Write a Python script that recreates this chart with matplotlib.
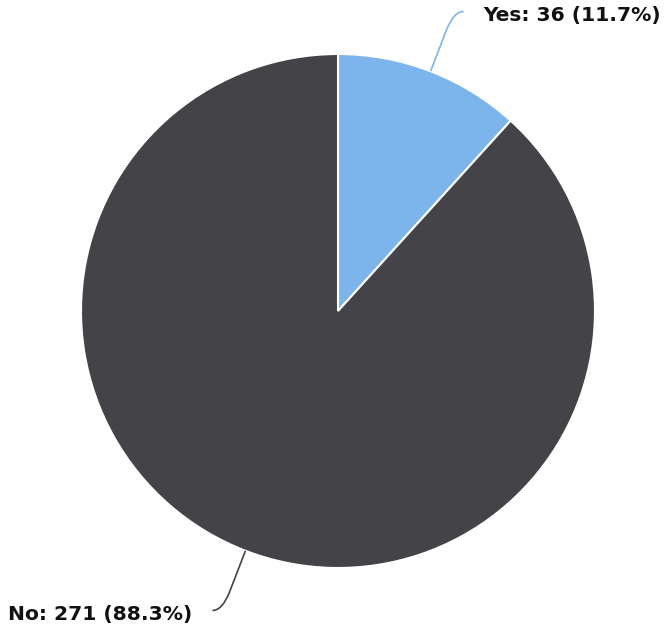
import numpy as np
from matplotlib import pyplot as plt
from matplotlib.path import Path
from matplotlib.patches import PathPatch

# data
labels = ["Yes", "No"]
counts = [36, 271]
colors = ["#7cb5ec", "#434348"]

W, H = 667, 627
fig = plt.figure(figsize=(W / 100, H / 100), dpi=100)
ax = fig.add_axes([0, 0, 1, 1])

cx, cy, r = 338, H - 311, 257
wedges, _ = ax.pie(counts, colors=colors, startangle=90, counterclock=False,
                   center=(cx, cy), radius=r, frame=True,
                   wedgeprops=dict(edgecolor="white", linewidth=1.5))
ax.set_xlim(0, W)
ax.set_ylim(0, H)
ax.set_aspect("equal")
ax.axis("off")

total = sum(counts)
for w, lab, n, c in zip(wedges, labels, counts, colors):
    mid = np.deg2rad((w.theta1 + w.theta2) / 2)
    ca, sa = np.cos(mid), np.sin(mid)
    side = 1 if ca >= 0 else -1
    p0 = (cx + r * ca, cy + r * sa)
    corner = (cx + (r + 64) * ca, cy + (r + 64) * sa)
    pre = (cx + (r + 44) * ca, cy + (r + 44) * sa)
    end = (corner[0] + side * 10, corner[1])
    path = Path([p0, pre, corner, end],
                [Path.MOVETO, Path.LINETO, Path.CURVE3, Path.CURVE3])
    ax.add_patch(PathPatch(path, fill=False, edgecolor=c, linewidth=1.2))
    ax.text(end[0] + side * 20, end[1] - 4,
            "%s: %d (%.1f%%)" % (lab, n, 100.0 * n / total),
            ha="left" if side > 0 else "right", va="center",
            fontsize=14.6, fontweight="bold", color="#111111")

fig.savefig("out.png", dpi=100)
